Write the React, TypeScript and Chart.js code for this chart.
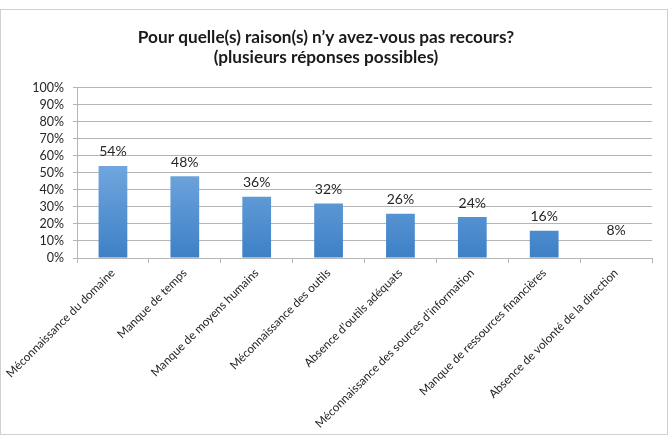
import React, { useEffect, useRef } from "react";
import { Chart, registerables } from "chart.js";

Chart.register(...registerables);

const titleLines = ["Pour quelle(s) raison(s) n\u2019y avez-vous pas recours?", "(plusieurs réponses possibles)"];
const categories = [
  "Méconnaissance du domaine",
  "Manque de temps",
  "Manque de moyens humains",
  "Méconnaissance des outils",
  "Absence d\u2019outils adéquats",
  "Méconnaissance des sources d\u2019information",
  "Manque de ressources financières",
  "Absence de volonté de la direction",
];
const values = [54, 48, 36, 32, 26, 24, 16, 8];
const yTicks = [0, 10, 20, 30, 40, 50, 60, 70, 80, 90, 100];

// style: the last bar is not drawn in the reference (only its label is)
const hiddenBars = [false, false, false, false, false, false, false, true];

const FONT = "Lato, 'Open Sans', sans-serif";

const labelPlugin = {
  id: "barLabels",
  afterDatasetsDraw(chart: any) {
    const ctx = chart.ctx;
    const meta = chart.getDatasetMeta(0);
    ctx.save();
    ctx.font = `14px ${FONT}`;
    ctx.fillStyle = "#262626";
    ctx.textAlign = "center";
    ctx.textBaseline = "middle";
    meta.data.forEach((el: any, i: number) => {
      ctx.fillText(`${values[i]}%`, el.x, el.y - 14);
    });
    ctx.restore();
  },
};

export default function App() {
  const ref = useRef<HTMLCanvasElement>(null);
  useEffect(() => {
    if (!ref.current) return;
    const chart = new Chart(ref.current, {
      type: "bar",
      data: {
        labels: categories,
        datasets: [
          {
            data: values,
            backgroundColor: (c: any) => {
              if (hiddenBars[c.dataIndex]) return "rgba(0,0,0,0)";
              const area = c.chart.chartArea;
              if (!area) return "#5b9bd5";
              const g = c.chart.ctx.createLinearGradient(0, area.bottom, 0, area.top + (area.bottom - area.top) * 0.45);
              g.addColorStop(0, "#3d80c6");
              g.addColorStop(1, "#72a7de");
              return g;
            },
            borderWidth: 0,
            categoryPercentage: 1,
            barPercentage: 0.4,
          },
        ],
      },
      options: {
        responsive: false,
        animation: false,
        layout: { padding: { left: 0, right: 20, top: 0, bottom: 0 } },
        plugins: {
          legend: { display: false },
          tooltip: { enabled: false },
          title: {
            display: true,
            text: titleLines,
            color: "#1a1a1a",
            font: { family: FONT, size: 17.2, weight: "bold", lineHeight: 1.18 },
            padding: { top: 27, bottom: 20 },
          },
        },
        scales: {
          y: {
            min: 0,
            max: 100,
            afterFit: (s: any) => {
              s.width = 77;
            },
            afterBuildTicks: (s: any) => {
              s.ticks = yTicks.map((v) => ({ value: v }));
            },
            ticks: {
              autoSkip: false,
              callback: (v: any) => `${v}%`,
              color: "#262626",
              font: { family: FONT, size: 12.5 },
              padding: 9,
            },
            grid: { color: "#b5b5b5", tickLength: 4, lineWidth: 1 },
            border: { color: "#b5b5b5" },
          },
          x: {
            afterFit: (s: any) => {
              s.height = 185;
            },
            ticks: {
              minRotation: 45,
              maxRotation: 45,
              autoSkip: false,
              color: "#262626",
              font: { family: FONT, size: 11.7 },
              padding: 3,
            },
            grid: { drawOnChartArea: false, drawTicks: true, tickLength: 5, color: "#b5b5b5", offset: true },
            border: { color: "#b5b5b5" },
          },
        },
      } as any,
      plugins: [labelPlugin],
    });
    return () => chart.destroy();
  }, []);
  return (
    <div style={{ position: "fixed", left: 0, top: 0, width: 672, height: 443, background: "#fff" }}>
      <div
        style={{
          position: "absolute",
          left: 0,
          top: 9,
          width: 668,
          height: 426,
          border: "1px solid #d0d0d0",
          boxSizing: "border-box",
        }}
      />
      <canvas ref={ref} width={672} height={443} style={{ position: "absolute", left: 0, top: 0 }} />
    </div>
  );
}
